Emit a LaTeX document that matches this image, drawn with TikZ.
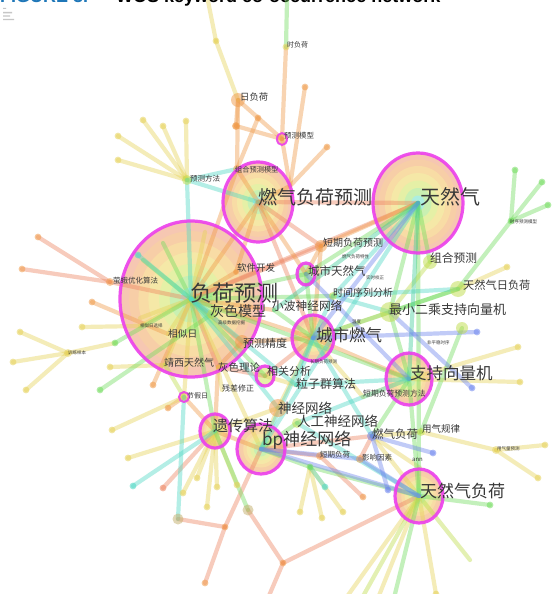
\documentclass[tikz,border=0pt]{standalone}
\usepackage{fontspec}
\newfontfamily\cjk{Noto Sans CJK SC}
\newfontfamily\ttlf{Liberation Sans}
\definecolor{cY}{HTML}{E6D258}
\definecolor{cO}{HTML}{F09A48}
\definecolor{cS}{HTML}{EE8460}
\definecolor{cG}{HTML}{72DC5E}
\definecolor{cL}{HTML}{BEDC48}
\definecolor{cC}{HTML}{4ED8C4}
\definecolor{cT}{HTML}{3CCB98}
\definecolor{cB}{HTML}{6C84EE}
\definecolor{ra}{HTML}{F6C1AA}
\definecolor{rb}{HTML}{F8CFA6}
\definecolor{rc}{HTML}{F9DEA5}
\definecolor{rd}{HTML}{F5EAA8}
\definecolor{re}{HTML}{E4F1A6}
\definecolor{rg}{HTML}{C6F0B4}
\definecolor{rh}{HTML}{A9EEE6}
\definecolor{magc}{HTML}{EC3FEC}
\definecolor{labc}{HTML}{383838}
\definecolor{tblue}{HTML}{1F77B8}
\definecolor{olv}{HTML}{C2AE6A}
\newcommand\myring[3]{\foreach \s/\c in {1/ra,0.87/rb,0.74/rc,0.6/rd,0.45/re,0.3/rg,0.15/rh}{\pgfmathsetmacro\myrx{#2*\s}\pgfmathsetmacro\myry{#3*\s}\fill[\c,fill opacity=0.9] (#1) ellipse [x radius=\myrx pt, y radius=\myry pt];}}
\newcommand\mymag[3]{\draw[mag] (#1) ellipse [x radius=#2pt, y radius=#3pt];}
\newcommand\myglow[3]{\fill[#2,fill opacity=0.5] (#1) circle (#3pt);}
\newcommand\mydot[2]{\fill[#2,fill opacity=0.55] (#1) circle (3.4pt);}
\newcommand\lbl[5]{\node[lab,font=\cjk\fontsize{#4}{#4}\selectfont] (#1) at (#2,#3) {#5};}
\begin{document}
\begin{tikzpicture}[x=1pt,y=-1pt,
  lk/.style={line width=4.2pt,line cap=round,draw=#1,draw opacity=0.42},
  mag/.style={draw=magc,line width=3.2pt,draw opacity=0.9},
  lab/.style={anchor=west,inner sep=0pt,text=labc}]
\useasboundingbox (0,0) rectangle (553,594);
\clip (0,0) rectangle (553,594);
\fill[white] (0,0) rectangle (553,594);
% title (cut off)
\node[anchor=base west,inner sep=0pt,font=\ttlf\bfseries\fontsize{18}{18}\selectfont,text=tblue] (ttl1) at (0,3) {FIGURE 3.};
\node[anchor=base west,inner sep=0pt,font=\ttlf\bfseries\fontsize{18}{18}\selectfont,text=black] (ttl2) at (116,3) {WOS keyword co-occurrence network};
\fill[gray!45] (3,8) rectangle (6,9) (3,12) rectangle (12,13.3) (3,15.5) rectangle (10,16.6) (3,19) rectangle (14,20.2);
% ---------- coordinates ----------
\coordinate (LF) at (191,299);
\coordinate (GLF) at (258,202);
\coordinate (NG) at (418,203);
\coordinate (CG) at (313,338);
\coordinate (SVM) at (409,379);
\coordinate (NGL) at (419,496);
\coordinate (GA) at (215,431);
\coordinate (BP) at (261,449);
\coordinate (CNG) at (306,274);
\coordinate (CA) at (265,376);
\coordinate (HOL) at (184,397);
\coordinate (PM) at (282,139);
\coordinate (HL) at (286,47);
\coordinate (DL) at (238,100);
\coordinate (PMe) at (187,180);
\coordinate (CPM) at (237,169);
\coordinate (SW) at (236,272);
\coordinate (STLF) at (321,246);
\coordinate (CP) at (430,262);
\coordinate (NGDL) at (458,289);
\coordinate (TS) at (333,296);
\coordinate (WNN) at (274,310);
\coordinate (LSSVM) at (390,312);
\coordinate (GM) at (212,314);
\coordinate (SD) at (168,334);
\coordinate (PA) at (242,342);
\coordinate (JX) at (165,365);
\coordinate (GT) at (218,367);
\coordinate (RC) at (222,390);
\coordinate (PSO) at (296,385);
\coordinate (NN) at (278,408);
\coordinate (ANN) at (297,423);
\coordinate (STLFM) at (363,397);
\coordinate (GL) at (372,436);
\coordinate (GUL) at (421,432);
\coordinate (STL) at (320,456);
\coordinate (IF) at (360,459);
\coordinate (ANNk) at (420,468);
\coordinate (FOA) at (110,282);
\coordinate (TR) at (68,353);
\coordinate (X1) at (290,186);
\coordinate (TSM) at (511,221);
\coordinate (NPS) at (462,328);
\coordinate (GQP) at (496,450);
\coordinate (SN) at (310,467);
\coordinate (T1) at (178,519);
\coordinate (T2) at (225,527);
\coordinate (T3) at (248,510);
\coordinate (T4) at (283,563);
\coordinate (SDx) at (140,326);
% leaves
\coordinate (l1) at (208,1); \coordinate (l1b) at (216,41); \coordinate (l2) at (287,1);
\coordinate (l3) at (236,126); \coordinate (l4) at (258,118); \coordinate (l5) at (305,87); \coordinate (l6) at (327,147);
\coordinate (p1) at (118,136); \coordinate (p2) at (143,120); \coordinate (p3) at (163,126); \coordinate (p4) at (186,121); \coordinate (p5) at (118,160);
\coordinate (f1) at (38,237); \coordinate (f2) at (22,269);
\coordinate (a1) at (92,302); \coordinate (a2) at (82,327); \coordinate (a3) at (100,390); \coordinate (a4) at (110,367); \coordinate (a5) at (138,255); \coordinate (a6) at (153,385);
\coordinate (t1) at (20,332); \coordinate (t2) at (13,362); \coordinate (t3) at (26,390); \coordinate (g1) at (115,343);
\coordinate (h1) at (168,408); \coordinate (h2) at (112,430); \coordinate (h3) at (128,458);
\coordinate (c1) at (133,486); \coordinate (c2) at (163,488); \coordinate (c3) at (183,493); \coordinate (c4) at (197,478); \coordinate (c5) at (207,507); \coordinate (c6) at (217,487); \coordinate (c7) at (237,485);
\coordinate (b1) at (205,583); \coordinate (b2) at (268,598);
\coordinate (s1) at (300,512); \coordinate (s2) at (322,518); \coordinate (s3) at (343,512); \coordinate (s4) at (325,487); \coordinate (s5) at (363,497);
\coordinate (n1) at (346,598); \coordinate (n2) at (362,598); \coordinate (n3) at (378,598); \coordinate (n4) at (394,598); \coordinate (n5) at (436,594); \coordinate (n6) at (490,505); \coordinate (n7) at (470,560);
\coordinate (q1) at (545,445); \coordinate (q2) at (538,478);
\coordinate (v1) at (518,347); \coordinate (v2) at (520,382);
\coordinate (y1) at (507,267);
\coordinate (m1) at (515,170); \coordinate (m2) at (542,182); \coordinate (m3) at (548,205);
\coordinate (bd1) at (433,453); \coordinate (bd2) at (388,490); \coordinate (bd3) at (472,388); \coordinate (bd4) at (477,332);
\coordinate (i1) at (143,260); \coordinate (i2) at (163,243); \coordinate (i3) at (205,232); \coordinate (i5) at (140,318);
% ---------- ring fills ----------
\myring{LF}{71}{78}
\myring{GLF}{35}{40}
\myring{NG}{45}{50}
\myring{CG}{21}{23}
\myring{SVM}{23}{26}
\myring{NGL}{24}{27}
\myring{GA}{15}{17}
\myring{BP}{24}{25}
\fill[rg] (CNG) ellipse [x radius=9pt, y radius=11pt];
\fill[re] (CA) ellipse [x radius=9pt, y radius=10pt];
\fill[rc] (HOL) circle (5pt);
\fill[rb] (PM) ellipse [x radius=5pt, y radius=6pt];
% ---------- edges ----------
\foreach \a/\b in {NG/GLF,NG/LF,LF/STLF,LF/GT,LF/FOA,GLF/STLF,GLF/CG,CG/CA,BP/STL,BP/GL,CA/GT,GL/IF,FOA/f1,FOA/f2,T1/T2,T2/BP,T2/b1,T3/T4,T4/NGL,T4/b2,STL/s5,GA/c2}
  \draw[lk=cS] (\a) -- (\b);
\foreach \a/\b in {NG/STLF,LF/GLF,LF/SW,LF/PA,LF/CG,LF/WNN,LF/CPM,GLF/CPM,GLF/CNG,GLF/SW,GLF/X1,CG/STLF,CG/PA,CG/SVM,BP/GA,GA/HOL,GA/GT,PA/GT,STLF/CNG,HL/PM,DL/PM,DL/l3,l3/PM,DL/CPM,l4/CPM,PM/X1,l5/X1,l6/X1,a1/SD,HOL/h1,LF/a6}
  \draw[lk=cO] (\a) -- (\b);
\foreach \a/\b in {LF/SD,LF/BP,LF/HOL,CG/NN,CG/LSSVM,CG/STLFM,SVM/STLFM,SVM/v1,SVM/v2,NGL/GL,BP/NN,GA/NN,CA/PSO,GT/RC,GL/GUL,GL/ANNk,GUL/GQP,GQP/q1,GQP/q2,NGDL/y1,PMe/p1,PMe/p2,PMe/p3,PMe/p4,PMe/p5,l1/l1b,l1b/DL,TR/t1,TR/t2,TR/t3,TR/g1,a2/SDx,SDx/LF,a4/JX,JX/LF,GA/c3,GA/c4,GA/c5,GA/c6,GA/c7,SN/s1,SN/s2,SN/s3,NGL/n1,NGL/n3,NGL/n5,h2/HOL,h3/GA,LF/i3,LF/i5}
  \draw[lk=cY] (\a) -- (\b);
\foreach \a/\b in {NG/CNG,NG/LSSVM,NG/CP,NG/NGL,LF/CNG,LF/CA,LF/GA,LF/SVM,LF/TS,CG/CNG,CG/WNN,CG/NGDL,SVM/LSSVM,SVM/GL,SVM/NGL,BP/ANN,BP/SN,SN/NGL,NGDL/TSM,TSM/m1,TSM/m2,TSM/m3,NGDL/LSSVM,NPS/GUL,g1/LF,a3/GM,GA/T3,NGL/n4,NGL/n6,LF/i1,LF/i2,l2/HL}
  \draw[lk=cG] (\a) -- (\b);
\foreach \a/\b in {NGL/n2,NGL/n7,CP/LSSVM,HOL/JX}
  \draw[lk=cL] (\a) -- (\b);
\foreach \a/\b in {NG/TS,LF/GM,LF/PSO,LF/NN,LF/PMe,GLF/PMe,CG/TS,CG/PSO,CG/BP,CG/GL,SVM/PSO,SVM/ANN,NGL/ANN,TS/LSSVM,TS/NGDL,PMe/CPM,a5/LF,HOL/T1,GA/c1,SN/s4,NG/BP}
  \draw[lk=cC] (\a) -- (\b);
\foreach \a/\b in {NG/WNN,NG/SVM}
  \draw[lk=cT] (\a) -- (\b);
\foreach \a/\b in {NG/CG,BP/IF,BP/NGL,CNG/SVM,GL/bd1,GL/bd2,LSSVM/bd3,bd4/CG,NGL/IF}
  \draw[lk=cB] (\a) -- (\b);
% ---------- leaf dots ----------
\foreach \p in {f1,f2,a1,l3,l4,l5,l6,a6,h1,b1,s5,T2,T4} \mydot{\p}{cO};
\foreach \p in {p1,p2,p3,p4,p5,t1,t2,t3,a2,a4,c3,c4,c5,c6,c7,s1,s2,s3,q1,q2,v1,v2,y1,h2,h3,n5,l1b} \mydot{\p}{cY};
\foreach \p in {m1,m2,m3,g1,a3,n6,SN} \mydot{\p}{cG};
\foreach \p in {a5,c1,s4} \mydot{\p}{cC};
\foreach \p in {bd1,bd2,bd3,bd4} \mydot{\p}{cB};
\mydot{c2}{cS}
% ---------- glows ----------
\myglow{DL}{cO}{7}
\myglow{l3}{cO}{4}
\myglow{HL}{cY}{3.5}
\myglow{PMe}{cL}{5}
\myglow{CPM}{cO}{4}
\myglow{CP}{cL}{7}
\myglow{NGDL}{cL}{8}
\myglow{LSSVM}{cL}{10}
\myglow{PA}{cO}{7}
\myglow{NN}{cO}{9}
\myglow{STLF}{cO}{6}
\myglow{TS}{cL}{4}
\myglow{T1}{olv}{5.5}
\myglow{T3}{olv}{5.5}
\myglow{GL}{cB}{5}
\myglow{NPS}{cL}{6}
\myglow{GQP}{cY}{4}
\myglow{TSM}{cG}{3.5}
\myglow{STL}{cO}{4}
\myglow{IF}{cO}{4}
\myglow{GUL}{cL}{4}
\myglow{FOA}{cO}{4}
\myglow{TR}{cY}{4}
\myglow{SW}{cO}{3}
\myglow{GM}{cL}{5}
\myglow{ANN}{cL}{5}
% ---------- magenta rings ----------
\mymag{LF}{71}{78}
\mymag{GLF}{35}{40}
\mymag{NG}{45}{50}
\mymag{CG}{21}{23}
\mymag{SVM}{23}{26}
\mymag{NGL}{24}{27}
\mymag{GA}{15}{17}
\mymag{BP}{24}{25}
\mymag{CNG}{9}{11}
\mymag{CA}{9}{10}
\draw[mag,line width=2pt] (HOL) circle (5pt);
\draw[mag,line width=2pt] (PM) ellipse [x radius=5pt, y radius=6pt];
% ---------- labels ----------
\lbl{nLF}{190}{293}{22}{负荷预测}
\lbl{nGLF}{258}{197}{19}{燃气负荷预测}
\lbl{nNG}{420}{197}{20}{天然气}
\lbl{nCG}{316}{335}{16.5}{城市燃气}
\lbl{nSVM}{410}{373}{16.5}{支持向量机}
\lbl{nNGL}{420}{491}{17}{天然气负荷}
\lbl{nBP}{262}{440}{17}{bp神经网络}
\lbl{nGA}{213}{426}{15}{遗传算法}
\lbl{nANN}{297}{421}{13.5}{人工神经网络}
\lbl{nNN}{278}{408}{13.5}{神经网络}
\lbl{nLSSVM}{389}{310}{13}{最小二乘支持向量机}
\lbl{nGM}{210}{311}{14}{灰色模型}
\lbl{nWNN}{272}{306}{11.7}{小波神经网络}
\lbl{nSW}{237}{268}{9.5}{软件开发}
\lbl{nSD}{168}{334}{9.7}{相似日}
\lbl{nPA}{243}{343}{11}{预测精度}
\lbl{nJX}{164}{363}{10}{靖西天然气}
\lbl{nGT}{218}{367}{10.5}{灰色理论}
\lbl{nCA}{267}{371}{11}{相关分析}
\lbl{nPSO}{296}{384}{12}{粒子群算法}
\lbl{nRC}{222}{388}{8}{残差修正}
\lbl{nHOL}{187}{396}{7}{节假日}
\lbl{nSTLF}{323}{243}{10}{短期负荷预测}
\lbl{nCNG}{308}{271}{11.5}{城市天然气}
\lbl{nTS}{333}{293}{10}{时间序列分析}
\lbl{nCP}{430}{258}{11.7}{组合预测}
\lbl{nNGDL}{463}{285}{11.2}{天然气日负荷}
\lbl{nSTLFM}{363}{394}{7.8}{短期负荷预测方法}
\lbl{nGL}{372}{434}{11.5}{燃气负荷}
\lbl{nGUL}{422}{429}{9.5}{用气规律}
\lbl{nSTL}{320}{455}{7.5}{短期负荷}
\lbl{nIF}{362}{458}{7.5}{影响因素}
\lbl{nANNk}{412}{460}{6}{ann}
\lbl{nPM}{284}{136}{7.5}{预测模型}
\lbl{nHL}{287}{45}{7}{时负荷}
\lbl{nDL}{240}{97}{9.3}{日负荷}
\lbl{nPMe}{190}{179}{7.5}{预测方法}
\lbl{nCPM}{235}{170}{7.2}{组合预测模型}
\lbl{nFOA}{113}{281}{7.5}{萤蛾优化算法}
\lbl{nTR}{68}{353}{4.5}{训练样本}
\lbl{nSDx}{140}{326}{4.5}{相似日选择}
\lbl{nDM}{218}{323}{4.5}{高级数据挖掘}
\lbl{nTX}{342}{257}{4.5}{燃气负荷特性}
\lbl{nRT}{366}{278}{4.5}{实时校正}
\lbl{nTSM}{510}{222}{4.5}{时序预测模型}
\lbl{nNPS}{427}{343}{4.5}{非平稳时序}
\lbl{nGQP}{497}{449}{4.5}{用气量预测}
\lbl{nLT}{310}{362}{4.5}{长期负荷预测}
\lbl{nTmp}{352}{322}{4.5}{温度}
\end{tikzpicture}
\end{document}
